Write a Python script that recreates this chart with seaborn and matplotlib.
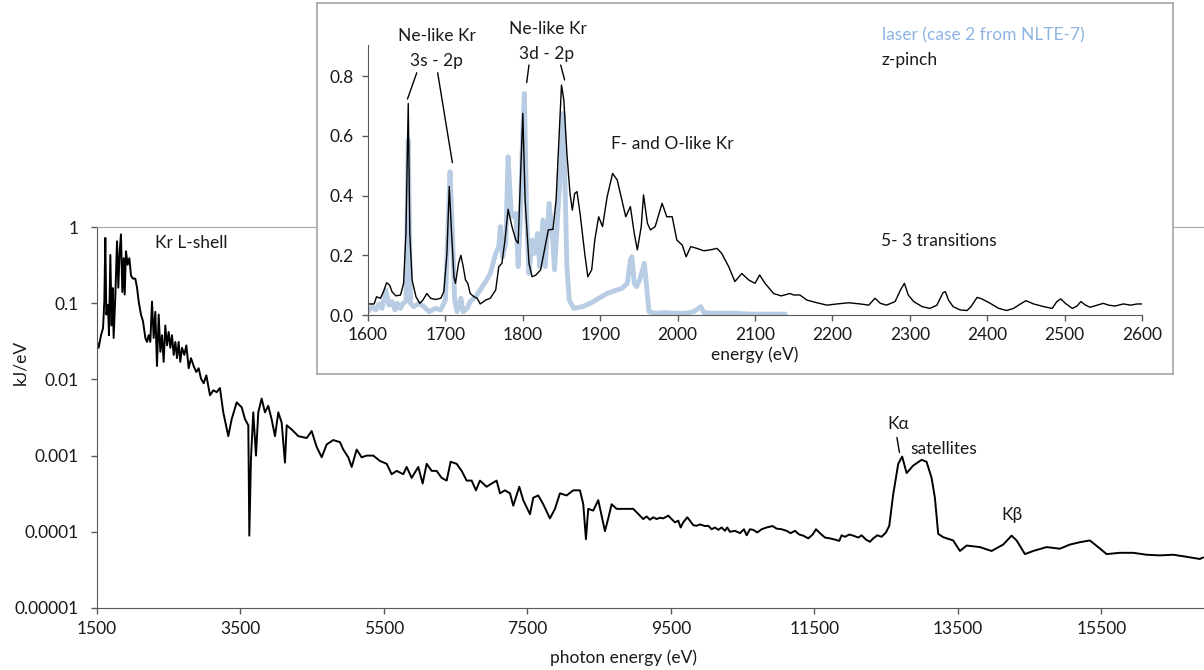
import numpy as np
import matplotlib
matplotlib.use("Agg")
import matplotlib.pyplot as plt
from matplotlib.ticker import NullLocator
import seaborn as sns

# main spectrum (photon energy in eV, kJ/eV)
main_energy = [1500, 1523, 1556, 1584, 1602, 1616, 1630, 1653, 1667, 1686, 1704, 1718, 1732, 1756,
               1779, 1797, 1816, 1834, 1853, 1872, 1886, 1904, 1927, 1951, 1974, 2002, 2034, 2058,
               2081, 2113, 2141, 2174, 2197, 2220, 2243, 2267, 2290, 2313, 2336, 2360, 2383, 2406,
               2429, 2452, 2476, 2499, 2522, 2545, 2569, 2592, 2615, 2638, 2661, 2685, 2717, 2745,
               2778, 2810, 2847, 2884, 2917, 2950, 2987, 3024,
               3075, 3121, 3168, 3214, 3260, 3330, 3377, 3447, 3517, 3563, 3609, 3623, 3646, 3678,
               3716, 3748, 3795, 3841, 3887, 3934, 3981, 4027, 4074, 4120, 4144, 4214, 4306,
               4423, 4492, 4562, 4632, 4701, 4793, 4887, 4933, 5002, 5050, 5119, 5189, 5259, 5351,
               5444, 5538, 5607, 5677, 5769, 5816, 5886, 5978, 6039, 6095, 6165, 6234, 6304, 6374,
               6429, 6513, 6583, 6652, 6722, 6782, 6838, 6931, 7001, 7070, 7117, 7186, 7256, 7302,
               7386, 7441, 7535, 7581, 7650, 7720, 7813, 7883, 7953, 8046, 8138, 8232, 8278, 8315,
               8347, 8417, 8487, 8580, 8626, 8673, 8743, 8859, 8974,
               9068, 9114, 9161, 9207, 9254, 9300, 9347, 9393, 9463, 9509, 9556, 9602, 9635, 9672,
               9728, 9765, 9811, 9858, 9904, 9974, 10020, 10067, 10113, 10160, 10206, 10253, 10285,
               10322, 10392, 10462, 10518, 10555, 10601, 10648, 10703, 10764, 10834, 10917, 10973,
               11043, 11112, 11168, 11228, 11289, 11345, 11414, 11475, 11521, 11577, 11647, 11716,
               11786, 11846, 11879, 11925, 11986, 12041, 12111, 12158, 12218, 12274, 12320, 12376,
               12436, 12497, 12543,
               12598, 12668, 12723, 12785, 12877, 12994, 13063, 13133, 13179, 13225,
               13295, 13434, 13528, 13621, 13806, 13969, 14131, 14248, 14318, 14434, 14549, 14736,
               14921, 15061, 15200, 15339, 15455, 15572, 15758, 15943, 16129, 16315, 16500, 16687,
               16872, 16919]
main_flux = [0.031, 0.026, 0.038, 0.047, 0.105, 0.72, 0.071, 0.095, 0.038, 0.43, 0.051, 0.158, 0.035, 0.13,
             0.65, 0.16, 0.48, 0.80, 0.14, 0.39, 0.13, 0.48, 0.32, 0.39, 0.23, 0.21, 0.21, 0.16,
             0.105, 0.071, 0.058, 0.035, 0.031, 0.038, 0.031, 0.105, 0.035, 0.077, 0.015, 0.071, 0.023, 0.038,
             0.017, 0.051, 0.028, 0.042, 0.026, 0.038, 0.021, 0.031, 0.019, 0.031, 0.017, 0.026, 0.021, 0.028,
             0.014, 0.019, 0.015, 0.0125, 0.014, 0.0102, 0.0089, 0.0113,
             0.0062, 0.0072, 0.0068, 0.0077, 0.0037, 0.0018, 0.003, 0.005, 0.0043, 0.003, 0.0025, 0.000089, 0.00091, 0.0037,
             0.001, 0.0037, 0.0056, 0.0037, 0.0045, 0.003, 0.0018, 0.0037, 0.0027, 0.00081, 0.0025, 0.0022, 0.0018,
             0.0017, 0.0021, 0.0013, 0.00095, 0.0014, 0.0016, 0.0015, 0.0012, 0.00095, 0.00071, 0.0012, 0.00095, 0.001, 0.001,
             0.00085, 0.00078, 0.00057, 0.00063, 0.00057, 0.00071, 0.00051, 0.00071, 0.00043, 0.00078, 0.00063, 0.00063, 0.00051, 0.00047,
             0.00083, 0.00078, 0.00063, 0.00047, 0.00047, 0.00035, 0.00047, 0.00039, 0.00043, 0.00047, 0.00032, 0.00035, 0.00032, 0.00022,
             0.00039, 0.00026, 0.00017, 0.00028, 0.0003, 0.00023, 0.00015, 0.0002, 0.00032, 0.0003, 0.00035, 0.00035, 0.00023, 0.00008,
             0.0002, 0.00019, 0.00026, 0.000102, 0.00015, 0.00023, 0.0002, 0.0002, 0.0002,
             0.000163, 0.000147, 0.000159, 0.000144, 0.000155, 0.000147, 0.000153, 0.00015, 0.000163, 0.000147, 0.000133, 0.00014, 0.000114, 0.000133,
             0.000155, 0.00014, 0.000122, 0.00012, 0.000125, 0.000119, 0.00012, 0.000108, 0.000114, 0.000106, 0.000114, 0.000103, 0.000114,
             0.0001, 0.000103, 0.000096, 0.000108, 0.00009, 0.000108, 0.000106, 0.000098, 0.000108, 0.000114, 0.000119, 0.00011,
             0.000108, 0.000103, 0.000096, 0.000103, 0.000092, 0.000089, 0.000082, 0.000092, 0.000108, 0.000096, 0.000084, 0.000082,
             0.000079, 0.000076, 0.00009, 0.000086, 0.000092, 0.000089, 0.000084, 0.00009, 0.000079, 0.000074, 0.000082, 0.00009,
             0.000086, 0.000098, 0.00012,
             0.00031, 0.00078, 0.00097, 0.00059, 0.00074, 0.00088, 0.00083, 0.00051, 0.00028, 0.000094,
             0.000085, 0.000077, 0.000056, 0.000066, 0.000063, 0.000056, 0.000068, 0.000089, 0.000077, 0.000051, 0.000056, 0.000063,
             0.00006, 0.000068, 0.000073, 0.000077, 0.000063, 0.000051, 0.000053, 0.000053, 0.00005, 0.000049, 0.00005, 0.000047,
             0.000044, 0.000046]

# inset: z-pinch L-shell spectrum
zpinch_energy = [1600, 1608, 1611, 1616, 1620, 1624, 1628, 1631, 1636, 1642, 1646, 1649, 1652, 1654,
                 1657, 1662, 1667, 1671, 1676, 1681, 1687, 1694, 1698, 1702, 1705, 1708, 1711, 1713,
                 1717, 1720, 1723, 1726, 1729, 1732, 1737, 1741, 1745, 1752, 1758, 1765, 1769, 1773,
                 1777, 1781, 1786, 1791, 1794, 1796, 1800, 1803, 1808, 1812, 1817, 1823, 1828, 1833,
                 1839, 1843, 1847, 1850, 1853, 1857, 1861, 1864, 1867, 1870, 1874, 1880, 1884, 1889,
                 1893, 1898, 1903, 1909, 1916, 1922, 1928, 1933, 1939, 1944, 1948, 1953, 1956, 1961,
                 1965, 1971, 1976, 1980, 1986, 1993, 1999, 2006, 2011, 2017, 2025, 2034, 2042, 2051,
                 2057, 2066, 2074, 2083, 2092, 2100, 2106, 2113, 2124, 2134, 2145, 2150, 2158, 2167,
                 2180, 2193, 2206, 2221, 2236, 2247, 2255, 2262, 2270, 2281, 2288, 2293, 2298, 2305,
                 2316, 2326, 2335, 2343, 2346, 2350, 2356, 2365, 2374, 2379, 2387, 2393, 2404, 2415,
                 2425, 2434, 2443, 2450, 2460, 2473, 2484, 2490, 2495, 2501, 2510, 2516, 2521, 2527,
                 2533, 2542, 2550, 2557, 2565, 2576, 2585, 2594, 2600]
zpinch = [0.037, 0.037, 0.061, 0.056, 0.078, 0.108, 0.10, 0.078, 0.064, 0.067, 0.106, 0.273, 0.708, 0.273,
          0.117, 0.061, 0.039, 0.05, 0.072, 0.056, 0.052, 0.056, 0.078, 0.206, 0.43, 0.273, 0.128, 0.106,
          0.173, 0.20, 0.162, 0.117, 0.106, 0.072, 0.061, 0.056, 0.037, 0.05, 0.056, 0.084, 0.162, 0.173,
          0.251, 0.354, 0.296, 0.251, 0.24, 0.385, 0.675, 0.385, 0.173, 0.128, 0.134, 0.151, 0.218, 0.285,
          0.287, 0.385, 0.608, 0.77, 0.72, 0.541, 0.407, 0.351, 0.407, 0.413, 0.34, 0.206, 0.128, 0.151,
          0.251, 0.329, 0.296, 0.396, 0.474, 0.452, 0.385, 0.329, 0.363, 0.273, 0.218, 0.296, 0.402, 0.307,
          0.285, 0.296, 0.34, 0.374, 0.329, 0.329, 0.251, 0.234, 0.195, 0.229, 0.223, 0.215, 0.218, 0.223,
          0.206, 0.162, 0.112, 0.139, 0.117, 0.106, 0.134, 0.106, 0.072, 0.064, 0.072, 0.067, 0.067, 0.05,
          0.041, 0.033, 0.037, 0.041, 0.037, 0.033, 0.056, 0.039, 0.033, 0.045, 0.084, 0.106, 0.067, 0.045,
          0.028, 0.022, 0.033, 0.075, 0.078, 0.05, 0.028, 0.017, 0.015, 0.028, 0.059, 0.054, 0.039, 0.022,
          0.015, 0.022, 0.037, 0.048, 0.037, 0.028, 0.022, 0.045, 0.054, 0.039, 0.022, 0.03, 0.045, 0.033,
          0.026, 0.033, 0.039, 0.033, 0.03, 0.037, 0.033, 0.037, 0.037]

# inset: laser spectrum (case 2 from NLTE-7)
laser_energy = [1600, 1605, 1610, 1614, 1618, 1623, 1627, 1631, 1635, 1638, 1642, 1645, 1649, 1652,
                1655, 1659, 1666, 1672, 1679, 1687, 1694, 1700, 1704, 1706, 1709, 1712, 1715, 1720,
                1723, 1728, 1732, 1739, 1745, 1752, 1758, 1765, 1769, 1771, 1774, 1778, 1781, 1785,
                1787, 1791, 1794, 1797, 1799, 1802, 1805, 1808, 1812, 1815, 1819, 1822, 1826, 1829,
                1834, 1838, 1841, 1845, 1849, 1852, 1854, 1857, 1860, 1866, 1877, 1887, 1898, 1909,
                1915, 1922, 1928, 1935, 1939, 1941, 1944, 1947, 1951, 1957, 1960, 1963, 1971, 1984,
                1997, 2010, 2021, 2030, 2034, 2044, 2057, 2074, 2092, 2113, 2139]
laser = [0.011, 0.028, 0.017, 0.037, 0.022, 0.084, 0.033, 0.045, 0.017, 0.039, 0.022, 0.039, 0.045, 0.586,
         0.039, 0.028, 0.039, 0.028, 0.011, 0.022, 0.017, 0.05, 0.34, 0.48, 0.273, 0.05, 0.011, 0.056,
         0.011, 0.022, 0.045, 0.061, 0.084, 0.112, 0.139, 0.206, 0.229, 0.296, 0.195, 0.24, 0.53, 0.34,
         0.329, 0.34, 0.162, 0.329, 0.541, 0.742, 0.329, 0.139, 0.251, 0.206, 0.273, 0.162, 0.318, 0.162,
         0.374, 0.273, 0.151, 0.329, 0.497, 0.675, 0.497, 0.162, 0.05, 0.022, 0.028, 0.039, 0.056, 0.072,
         0.078, 0.084, 0.089, 0.106, 0.184, 0.195, 0.106, 0.095, 0.117, 0.173, 0.095, 0.011, 0.006, 0.008,
         0.006, 0.006, 0.011, 0.028, 0.008, 0.006, 0.006, 0.006, 0.003, 0.003, 0.003]

main_xticks = [1500, 3500, 5500, 7500, 9500, 11500, 13500, 15500]
main_yticks = [1, 0.1, 0.01, 0.001, 0.0001, 0.00001]
main_ylabels = ["1", "0.1", "0.01", "0.001", "0.0001", "0.00001"]
inset_xticks = [1600, 1700, 1800, 1900, 2000, 2100, 2200, 2300, 2400, 2500, 2600]
inset_yticks = [0.0, 0.2, 0.4, 0.6, 0.8]

sns.set_style("ticks")
plt.rcParams["font.family"] = ["Lato", "DejaVu Sans"]

W, H = 1204, 670
fig = plt.figure(figsize=(W / 100, H / 100), dpi=100)

axis_col = "#595959"
text_col = "#1a1a1a"
blue = "#b8cce4"

# ---- main log plot
ax = fig.add_axes([97 / W, 62 / H, 1107 / W, 381 / H])
sns.lineplot(x=main_energy, y=main_flux, ax=ax, color="black", linewidth=1.4,
             sort=False, estimator=None)
ax.set_yscale("log")
ax.set_xlim(1500, 16930)
ax.set_ylim(1e-5, 1)
ax.set_xticks(main_xticks)
ax.set_xticklabels([str(t) for t in main_xticks])
ax.set_yticks(main_yticks)
ax.set_yticklabels(main_ylabels)
ax.yaxis.set_minor_locator(NullLocator())
ax.xaxis.set_minor_locator(NullLocator())
ax.tick_params(direction="out", length=4.5, width=1, color=axis_col,
               labelsize=12.5, labelcolor=text_col)
ax.tick_params(axis="y", pad=9)
ax.tick_params(axis="x", pad=5)
ax.spines["right"].set_visible(False)
ax.spines["top"].set_color("#a6a6a6")
ax.spines["left"].set_color(axis_col)
ax.spines["bottom"].set_color(axis_col)
ax.set_xlabel("photon energy (eV)", fontsize=12.5, color=text_col)
ax.set_ylabel("kJ/eV", fontsize=12.5, color=text_col)
ax.xaxis.set_label_coords((624 - 97) / 1107, -0.108)
ax.yaxis.set_label_coords(-0.0625, 0.645)

ax.text(2308, 0.61, "Kr L-shell", fontsize=12.5, color=text_col, va="center")
ax.text(12513, 0.0026, "Kα", fontsize=12.5, color=text_col, va="center")
ax.text(12833, 0.00123, "satellites", fontsize=12.5, color=text_col, va="center")
ax.text(14101, 0.000167, "Kβ", fontsize=12.5, color=text_col, va="center")
ax.plot([12650, 12685], [0.00173, 0.0011], color="black", linewidth=1)

# ---- inset frame
box = fig.add_axes([317 / W, (H - 374) / H, 856 / W, 371 / H])
box.set_xticks([])
box.set_yticks([])
box.set_facecolor("white")
for s in box.spines.values():
    s.set_color("#a6a6a6")
    s.set_linewidth(1.2)

# ---- inset plot
ins = fig.add_axes([368 / W, (H - 315) / H, 774 / W, 270 / H])
ins.patch.set_alpha(0)
sns.lineplot(x=laser_energy, y=laser, ax=ins, color=blue, linewidth=3.5,
             sort=False, estimator=None)
sns.lineplot(x=zpinch_energy, y=zpinch, ax=ins, color="black", linewidth=1.0,
             sort=False, estimator=None)
ins.set_xlim(1600, 2600)
ins.set_ylim(0, 0.904)
ins.set_xticks(inset_xticks)
ins.set_xticklabels([str(t) for t in inset_xticks])
ins.set_yticks(inset_yticks)
ins.set_yticklabels([f"{t:.1f}" for t in inset_yticks])
ins.tick_params(direction="out", length=4, width=1, color=axis_col,
                labelsize=12.5, labelcolor=text_col)
ins.tick_params(axis="y", pad=6)
ins.tick_params(axis="x", pad=5)
ins.spines["right"].set_visible(False)
ins.spines["top"].set_visible(False)
ins.spines["left"].set_color(axis_col)
ins.spines["bottom"].set_color(axis_col)
ins.set_xlabel("energy (eV)", fontsize=12.5, color=text_col, labelpad=2)

ins.text(1689, 0.934, "Ne-like Kr", fontsize=12.5, color=text_col, ha="center", va="center")
ins.text(1688, 0.850, "3s - 2p", fontsize=12.5, color=text_col, ha="center", va="center")
ins.text(1833, 0.959, "Ne-like Kr", fontsize=12.5, color=text_col, ha="center", va="center")
ins.text(1831, 0.874, "3d - 2p", fontsize=12.5, color=text_col, ha="center", va="center")
ins.plot([1663, 1651], [0.811, 0.723], color="black", linewidth=1, clip_on=False)
ins.plot([1690, 1709], [0.811, 0.51], color="black", linewidth=1, clip_on=False)
ins.plot([1808, 1805], [0.837, 0.778], color="black", linewidth=1, clip_on=False)
ins.plot([1849, 1854], [0.837, 0.787], color="black", linewidth=1, clip_on=False)
ins.text(1914, 0.571, "F- and O-like Kr", fontsize=12.5, color=text_col, va="center")
ins.text(2264, 0.937, "laser (case 2 from NLTE-7)", fontsize=12.5, color="#8eb4e3", va="center")
ins.text(2264, 0.854, "z-pinch", fontsize=12.5, color=text_col, va="center")
ins.text(2263, 0.249, "5- 3 transitions", fontsize=12.5, color=text_col, va="center")

fig.savefig("out.png", dpi=100)
